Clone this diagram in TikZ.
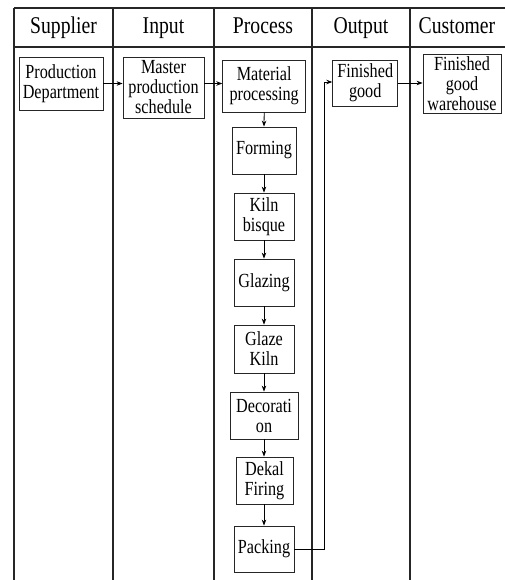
\documentclass[tikz,border=0pt]{standalone}
\usepackage{fontspec}
\setmainfont{Liberation Serif}[FakeStretch=0.81]
\newfontfamily\hdrfont{Liberation Serif}[FakeStretch=0.82]
\usetikzlibrary{arrows.meta}
\begin{document}
\begin{tikzpicture}[x=1pt,y=-1pt,
  grid/.style={line width=1.2pt,draw=black!85},
  hdr/.style={font=\hdrfont\fontsize{24}{28}\selectfont,inner sep=0pt,anchor=base},
  box/.style={draw=black!85,line width=0.8pt,inner sep=0pt,align=center,
    font=\fontsize{20}{20}\selectfont},
  arr/.style={line width=0.8pt,-{Stealth[length=6pt,width=4.5pt]}}]
\useasboundingbox (0,0) rectangle (504,580);
% table
\draw[grid] (14,8) -- (508,8);
\draw[grid] (14,47) -- (508,47);
\draw[grid] (14,8) -- (14,584);
\foreach \xx in {113,214,312,410} \draw[grid] (\xx,8) -- (\xx,584);
% headers
\node[hdr] (hs) at (63.5,34) {Supplier};
\node[hdr] (hi) at (163.5,34) {Input};
\node[hdr] (hp) at (263,34) {Process};
\node[hdr] (ho) at (361,34) {Output};
\node[hdr] (hc) at (457,34) {Customer};
% boxes
\node[box,minimum width=84pt,minimum height=53pt] (prod) at (61,83.5) {Production\\Department};
\node[box,minimum width=81pt,minimum height=61pt] (master) at (163.5,87.5) {Master\\production\\schedule};
\node[box,minimum width=83pt,minimum height=52pt] (material) at (264.2,86) {Material\\processing};
\node[box,minimum width=65pt,minimum height=46pt] (finished) at (365.2,83) {Finished\\good};
\node[box,minimum width=78pt,minimum height=59pt] (warehouse) at (462,83.5) {Finished\\good\\warehouse};
\node[box,minimum width=64pt,minimum height=47pt] (forming) at (264,150.5) {Forming};
\node[box,minimum width=60pt,minimum height=47pt] (kiln) at (264,216.5) {Kiln\\bisque};
\node[box,minimum width=60pt,minimum height=47pt] (glazing) at (264,282.5) {Glazing};
\node[box,minimum width=60pt,minimum height=48pt] (glazekiln) at (264,349) {Glaze\\Kiln};
\node[box,minimum width=68pt,minimum height=47pt] (decoration) at (264,415.5) {Decorati\\on};
\node[box,minimum width=57pt,minimum height=47pt] (dekal) at (264.5,480.5) {Dekal\\Firing};
\node[box,minimum width=60pt,minimum height=46pt] (packing) at (264,549) {Packing};
% arrows
\draw[arr] (prod.east) -- (prod.east -| master.west);
\draw[arr] (prod.east -| master.east) -- (prod.east -| material.west);
\draw[arr] (finished.east) -- (finished.east -| warehouse.west);
\draw[arr] (material.south) -- (forming.north);
\draw[arr] (forming.south) -- (kiln.north);
\draw[arr] (kiln.south) -- (glazing.north);
\draw[arr] (glazing.south) -- (glazekiln.north);
\draw[arr] (glazekiln.south) -- (decoration.north);
\draw[arr] (decoration.south) -- (decoration.south |- dekal.north);
\draw[arr] (dekal.south -| packing.north) -- (packing.north);
\draw[arr] (packing.east) -- ++(30,0) |- ([yshift=1pt]finished.west);
\end{tikzpicture}
\end{document}
